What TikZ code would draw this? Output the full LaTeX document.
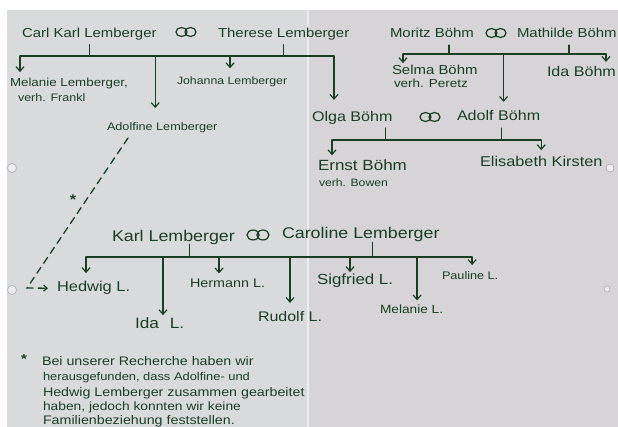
\documentclass[tikz,border=0pt]{standalone}
\usepackage{fontspec}
\setmainfont{Liberation Sans}[FakeStretch=1.15]
\usetikzlibrary{arrows.meta}
\definecolor{ink}{RGB}{26,62,36}
\definecolor{paperL}{RGB}{217,218,220}
\definecolor{paperR}{RGB}{214,212,214}
\definecolor{foldc}{RGB}{236,236,236}
\definecolor{holec}{RGB}{236,236,238}
\tikzset{
  lbl/.style={inner sep=0pt, outer sep=0pt, text=ink, anchor=base west, font=\fontsize{#1}{#1}\selectfont},
  inkline/.style={draw=ink, line width=1.3pt, line cap=round},
  arr/.style={inkline, -{Straight Barb[length=4.5pt,width=8pt,line width=1.2pt]}},
  dashlink/.style={inkline, dash pattern=on 7pt off 5pt, -{Straight Barb[length=3.5pt,width=6pt,line width=1.2pt]}},
  rings/.pic={\draw[draw=ink,line width=1.2pt] (-4.5,0) ellipse [x radius=5.5pt, y radius=4.5pt] (4.5,0) ellipse [x radius=5.5pt, y radius=4.5pt];},
  holemark/.style={fill=holec, draw=black!35, line width=0.5pt},
}
\begin{document}
\begin{tikzpicture}[x=1pt,y=-1pt]
\useasboundingbox (0,0) rectangle (618,427);
\clip (0,0) rectangle (618,427);
% paper
\fill[white] (0,0) rectangle (618,427);
\fill[paperL] (7,10) rectangle (307,427);
\fill[paperR] (307,10) rectangle (618,427);
\fill[foldc] (306.5,10) rectangle (309,427);
\filldraw[holemark] (12,168) circle [radius=4.5pt] (12,290) circle [radius=4.5pt]
  (610,168) circle [radius=4pt] (607,289) circle [radius=3pt];

% ---------- Lemberger (top left) ----------
\node[lbl=13] (carl) at (22,38) {Carl Karl Lemberger};
\pic at (186,32) {rings};
\node[lbl=13] (therese) at (218,38) {Therese Lemberger};
\coordinate (b1L) at (20,56); \coordinate (b1R) at (334,56);
\draw[inkline] (b1L) -- (b1R);
\draw[inkline] ([yshift=-4pt]carl.south) -- (carl.south |- b1L);
\draw[inkline] ([yshift=-4pt]therese.south) -- (therese.south |- b1L);

\node[lbl=11.6] (melanie) at (10,87) {Melanie Lemberger,};
\node[lbl=10.9] (melanieV) at (18,102) {verh. Frankl};
\node[lbl=10.7] (johanna) at (177,85) {Johanna Lemberger};
\node[lbl=11] (adolfine) at (107,131) {Adolfine Lemberger};
\node[lbl=14] (olga) at (312,122) {Olga Böhm};
\coordinate (tMel) at ([xshift=10pt,yshift=6.5pt]melanie.north west);
\coordinate (tJoh) at ([xshift=-2pt,yshift=9pt]johanna.north);
\coordinate (tAdo) at ([xshift=-7pt,yshift=15pt]adolfine.north);
\coordinate (tOlg) at ([xshift=22pt,yshift=12pt]olga.north west);
\foreach \p in {tMel,tJoh,tAdo,tOlg} \draw[arr] (\p |- b1L) -- (\p);

% ---------- Böhm (top right) ----------
\node[lbl=13] (moritz) at (390,38) {Moritz Böhm};
\pic at (496,33) {rings};
\node[lbl=13] (mathilde) at (517,38) {Mathilde Böhm};
\coordinate (b2L) at (403,54); \coordinate (b2R) at (606,54);
\draw[inkline] (b2L) -- (b2R);
\coordinate (sMor) at ([xshift=17pt,yshift=-7pt]moritz.south);
\coordinate (sMat) at ([xshift=2pt,yshift=-7pt]mathilde.south);
\draw[inkline] (sMor) -- (sMor |- b2L);
\draw[inkline] (sMat) -- (sMat |- b2L);

\node[lbl=13] (selma) at (392,75) {Selma Böhm};
\node[lbl=11.7] (selmaV) at (394,88) {verh. Peretz};
\node[lbl=14] (adolf) at (457,121) {Adolf Böhm};
\node[lbl=14] (idab) at (547,77) {Ida Böhm};
\coordinate (tSel) at ([xshift=11pt,yshift=2.5pt]selma.north west);
\coordinate (tAdf) at ([xshift=5pt,yshift=9pt]adolf.north);
\coordinate (tIdb) at ([xshift=59pt,yshift=5pt]idab.north west);
\foreach \p in {tSel,tAdf,tIdb} \draw[arr] (\p |- b2L) -- (\p);

% ---------- Olga & Adolf ----------
\pic at (430,117) {rings};
\coordinate (b3L) at (332,140); \coordinate (b3R) at (541,140);
\draw[inkline] (b3L) -- (b3R);
\coordinate (sOlg) at ([xshift=33pt,yshift=-3pt]olga.south);
\coordinate (sAdf) at ([xshift=3pt,yshift=-7pt]adolf.south);
\draw[inkline] (sOlg) -- (sOlg |- b3L);
\draw[inkline] (sAdf) -- (sAdf |- b3L);
\node[lbl=14.8] (ernst) at (318,171) {Ernst Böhm};
\node[lbl=10.6] (ernstV) at (319,187) {verh. Bowen};
\node[lbl=14.2] (elisabeth) at (480,167) {Elisabeth Kirsten};
\coordinate (tErn) at ([xshift=14pt,yshift=5pt]ernst.north west);
\coordinate (tEli) at ([yshift=6.6pt]elisabeth.north);
\foreach \p in {tErn,tEli} \draw[arr] (\p |- b3L) -- (\p);

% ---------- Karl & Caroline ----------
\node[lbl=15.5] (karl) at (112,242) {Karl Lemberger};
\pic[scale=1.1] at (258,235) {rings};
\node[lbl=15.5] (caroline) at (282,239) {Caroline Lemberger};
\coordinate (b4L) at (86,257); \coordinate (b4R) at (472,257);
\draw[inkline] (b4L) -- (b4R);
\coordinate (sKar) at ([xshift=16pt,yshift=1pt]karl.south);
\coordinate (sCar) at ([xshift=12pt]caroline.south);
\draw[inkline] (sKar) -- (sKar |- b4L);
\draw[inkline] (sCar) -- (sCar |- b4L);

\node[lbl=14.3] (hedwig) at (57,292) {Hedwig L.};
\node[lbl=15] (idal) at (135,328) {Ida\hspace{6pt} L.};
\node[lbl=12.5] (hermann) at (190,288) {Hermann L.};
\node[lbl=13.9] (rudolf) at (258,322) {Rudolf L.};
\node[lbl=14.7] (sigfried) at (317,285) {Sigfried L.};
\node[lbl=11.9] (melaniel) at (380,314) {Melanie L.};
\node[lbl=11] (pauline) at (442,280) {Pauline L.};
\coordinate (tHed) at ([xshift=-7.5pt,yshift=8.6pt]hedwig.north);
\coordinate (tIdl) at ([xshift=28pt,yshift=2pt]idal.north west);
\coordinate (tHer) at ([xshift=-8.5pt,yshift=6pt]hermann.north);
\coordinate (tRud) at ([yshift=9pt]rudolf.north);
\coordinate (tSig) at ([xshift=-5pt,yshift=2.3pt]sigfried.north);
\coordinate (tMlL) at ([xshift=5.5pt,yshift=5pt]melaniel.north);
\coordinate (tPau) at ([xshift=2pt,yshift=7pt]pauline.north);
\foreach \p in {tHed,tIdl,tHer,tRud,tSig,tMlL,tPau} \draw[arr] (\p |- b4L) -- (\p);

% ---------- dashed link Adolfine -> Hedwig ----------
\coordinate (dTop) at ([xshift=21pt,yshift=-4.7pt]adolfine.south west);
\coordinate (dCorner) at (27,288);
\draw[dashlink, shorten >=9pt] (dTop) -- (dCorner) -- (hedwig.west);
\node[text=ink, font=\bfseries\fontsize{14}{14}\selectfont, inner sep=0pt, anchor=base] (ast) at (73,205) {*};

% ---------- footnote ----------
\node[lbl=13] (fnstar) at (21,363) {\bfseries *};
\node[lbl=12.4] (fn1) at (42,365) {Bei unserer Recherche haben wir};
\node[lbl=11.2] (fn2) at (43,380.5) {herausgefunden, dass Adolfine- und};
\node[lbl=12.4] (fn3) at (43,396) {Hedwig Lemberger zusammen gearbeitet};
\node[lbl=12] (fn4) at (43,410) {haben, jedoch konnten wir keine};
\node[lbl=12.4] (fn5) at (43,424) {Familienbeziehung feststellen.};
\end{tikzpicture}
\end{document}
